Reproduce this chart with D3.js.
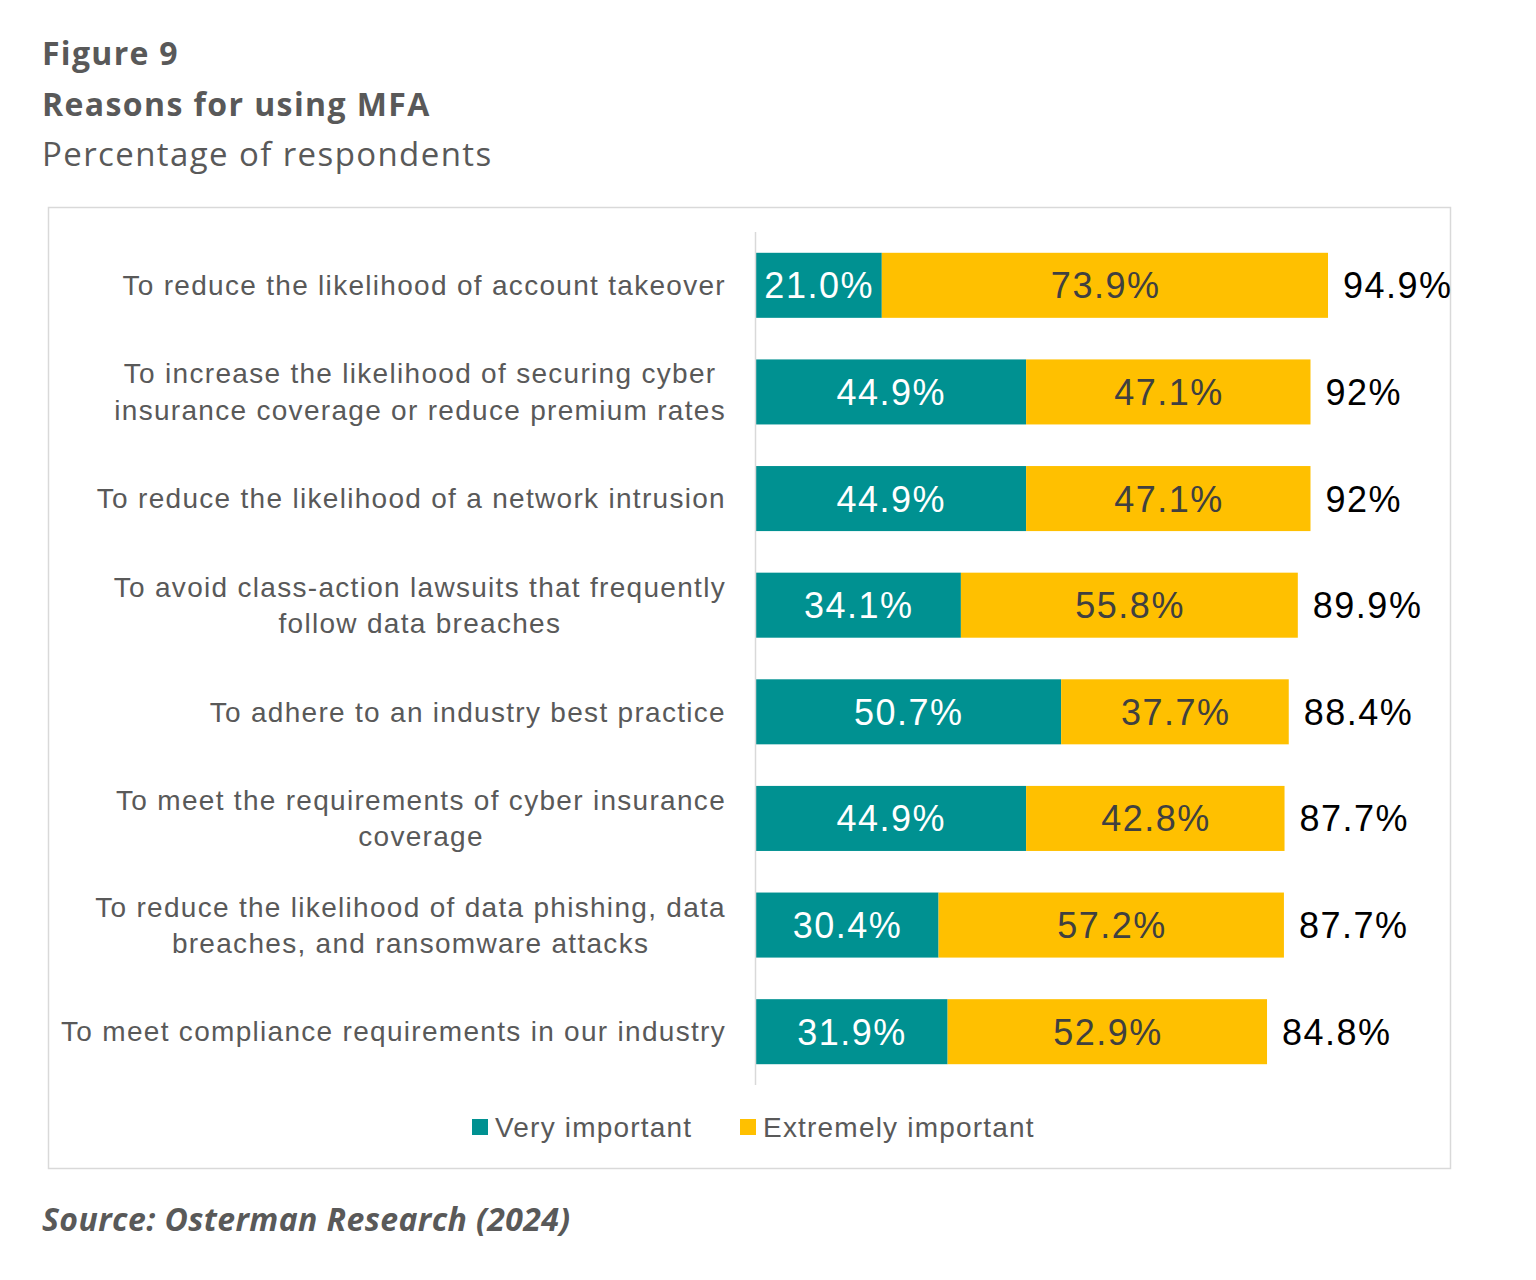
<!DOCTYPE html>
<html>
<head>
<meta charset="utf-8">
<script src="https://cdn.jsdelivr.net/npm/d3@7"></script>
<style>
  html, body { margin: 0; padding: 0; background: #ffffff; }
  svg { display: block; }
</style>
</head>
<body>
<svg id="chart" width="1536" height="1280"></svg>
<script>
// ---- data ----
const categories = [
  "To reduce the likelihood of account takeover",
  "To increase the likelihood of securing cyber\ninsurance coverage or reduce premium rates",
  "To reduce the likelihood of a network intrusion",
  "To avoid class-action lawsuits that frequently\nfollow data breaches",
  "To adhere to an industry best practice",
  "To meet the requirements of cyber insurance\ncoverage",
  "To reduce the likelihood of data phishing, data\nbreaches, and ransomware attacks",
  "To meet compliance requirements in our industry"
];
const veryImportant = [21.0, 44.9, 44.9, 34.1, 50.7, 44.9, 30.4, 31.9];
const extremelyImportant = [73.9, 47.1, 47.1, 55.8, 37.7, 42.8, 57.2, 52.9];
const totalLabels = ["94.9%", "92%", "92%", "89.9%", "88.4%", "87.7%", "87.7%", "84.8%"];
const seriesNames = ["Very important", "Extremely important"];
const seriesColors = ["#009191", "#FFC000"];
const titleLines = ["Figure 9", "Reasons for using MFA"];
const subtitle = "Percentage of respondents";
const sourceText = "Source: Osterman Research (2024)";

// ---- drawing ----
const svg = d3.select("#chart");
const gray = "#595959";
const labelFont = "'Liberation Sans', Arial, sans-serif";
const titleFont = "'Open Sans', Lato, sans-serif";

// titles
svg.append("text").attr("x", 42).attr("y", 65).text(titleLines[0])
  .attr("font-family", titleFont).attr("font-weight", 700).attr("font-size", 32)
  .attr("letter-spacing", 1.3).attr("fill", gray);
svg.append("text").attr("x", 42).attr("y", 116).text(titleLines[1])
  .attr("font-family", titleFont).attr("font-weight", 700).attr("font-size", 32)
  .attr("letter-spacing", 1.4).attr("fill", gray);
svg.append("text").attr("x", 42).attr("y", 166).text(subtitle)
  .attr("font-family", titleFont).attr("font-weight", 400).attr("font-size", 33)
  .attr("letter-spacing", 1.4).attr("fill", gray);

// frame
svg.append("rect").attr("x", 48.5).attr("y", 207.5).attr("width", 1402).attr("height", 961)
  .attr("fill", "none").attr("stroke", "#d9d9d9").attr("stroke-width", 1.5);

// scales
const y = d3.scaleBand().domain(d3.range(categories.length)).range([232, 1085])
  .paddingInner(0.39).paddingOuter(0.195);
const x = d3.scaleLinear().domain([0, 100]).range([755, 1358.8]);

const rows = categories.map((c, i) => ({
  i, cat: c, v: veryImportant[i], e: extremelyImportant[i], total: totalLabels[i]
}));

// category labels
const catSize = 28, catSpacing = 1.3;
const catG = svg.append("g");
rows.forEach(r => {
  const lines = r.cat.split("\n");
  const cy = y(r.i) + y.bandwidth() / 2;
  const lh = 36.5;
  const tmp = catG.append("text").attr("font-family", labelFont).attr("font-size", catSize)
    .attr("letter-spacing", catSpacing).attr("visibility", "hidden");
  const widths = lines.map(l => { tmp.text(l); return tmp.node().getComputedTextLength(); });
  tmp.remove();
  const maxW = d3.max(widths);
  const centerX = 726 - maxW / 2;
  lines.forEach((l, k) => {
    catG.append("text")
      .attr("font-family", labelFont).attr("font-size", catSize).attr("fill", gray)
      .attr("letter-spacing", catSpacing)
      .attr("text-anchor", "middle")
      .attr("x", centerX)
      .attr("y", cy + (k - (lines.length - 1) / 2) * lh)
      .attr("dy", "0.35em")
      .text(l);
  });
});

// bars
const valSize = 36, valSpacing = 1.5;
const barG = svg.append("g");
rows.forEach(r => {
  const segs = [
    { x0: 0, x1: r.v, val: r.v, color: seriesColors[0], tc: "#ffffff" },
    { x0: r.v, x1: r.v + r.e, val: r.e, color: seriesColors[1], tc: "#404040" }
  ];
  segs.forEach(s => {
    barG.append("rect")
      .attr("x", x(s.x0)).attr("y", y(r.i))
      .attr("width", x(s.x1) - x(s.x0)).attr("height", y.bandwidth())
      .attr("fill", s.color);
    barG.append("text")
      .attr("x", (x(s.x0) + x(s.x1)) / 2 + valSpacing / 2)
      .attr("y", y(r.i) + y.bandwidth() / 2)
      .attr("dy", "0.36em")
      .attr("text-anchor", "middle")
      .attr("letter-spacing", valSpacing)
      .attr("font-family", labelFont).attr("font-size", valSize).attr("fill", s.tc)
      .text(s.val.toFixed(1) + "%");
  });
  barG.append("text")
    .attr("x", x(r.v + r.e) + 15)
    .attr("y", y(r.i) + y.bandwidth() / 2)
    .attr("dy", "0.36em")
    .attr("letter-spacing", valSpacing)
    .attr("font-family", labelFont).attr("font-size", valSize).attr("fill", "#000000")
    .text(r.total);
});

// axis line
svg.append("line").attr("x1", 755.5).attr("x2", 755.5).attr("y1", 232).attr("y2", 1085)
  .attr("stroke", "#d9d9d9").attr("stroke-width", 1.5);

// legend
const legendItems = [
  { name: seriesNames[0], color: seriesColors[0], x: 472 },
  { name: seriesNames[1], color: seriesColors[1], x: 740 }
];
legendItems.forEach(li => {
  svg.append("rect").attr("x", li.x).attr("y", 1119).attr("width", 16).attr("height", 16).attr("fill", li.color);
  svg.append("text").attr("x", li.x + 23).attr("y", 1127).attr("dy", "0.35em")
    .attr("letter-spacing", 1.2)
    .attr("font-family", labelFont).attr("font-size", 28).attr("fill", gray).text(li.name);
});

// source
svg.append("text").attr("x", 42).attr("y", 1231).text(sourceText)
  .attr("font-family", titleFont).attr("font-weight", 700).attr("font-style", "italic")
  .attr("font-size", 32).attr("letter-spacing", 0.4).attr("fill", gray);
</script>
</body>
</html>
